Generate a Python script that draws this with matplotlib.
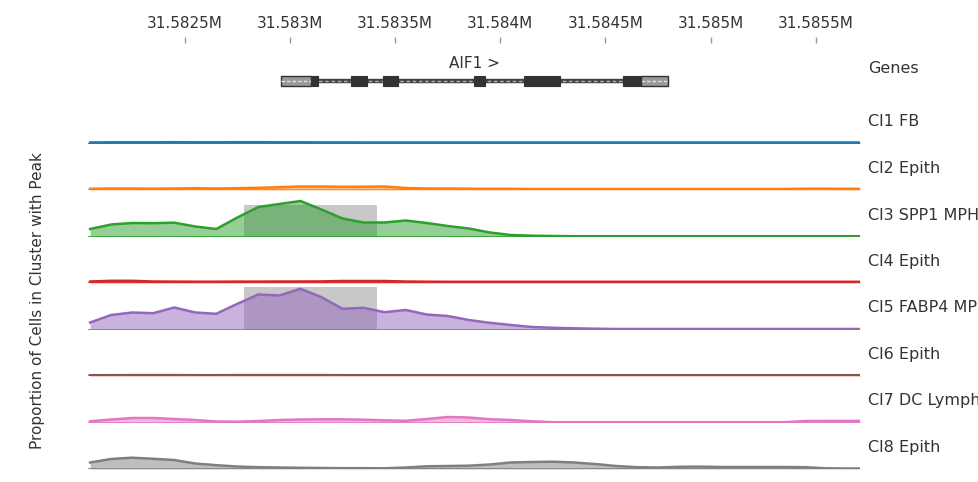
import numpy as np
import matplotlib
matplotlib.use('Agg')
import matplotlib.pyplot as plt
from matplotlib.patches import Rectangle
from matplotlib.ticker import MultipleLocator, FuncFormatter

plt.rcParams['font.family'] = ['DejaVu Sans']

# ---------------- data ----------------
x_start, x_end = 31582040, 31585710
bin_start = 31582050
bin_size = 100
n_bins = 38
positions = bin_start + bin_size * np.arange(n_bins)

clusters = ['Cl1 FB', 'Cl2 Epith', 'Cl3 SPP1 MPH', 'Cl4 Epith',
            'Cl5 FABP4 MPH', 'Cl6 Epith', 'Cl7 DC Lymph', 'Cl8 Epith']
colors = ['#1f77b4', '#ff7f0e', '#2ca02c', '#d62728',
          '#9467bd', '#8c564b', '#e377c2', '#7f7f7f']

cl1 = [.010, .012, .012, .012, .013, .012, .012, .013, .013, .012,
       .012, .011, .011, .010, .010, .010, .010, .010, .010, .010,
       .010, .010, .010, .010, .010, .010, .010, .010, .010, .010,
       .010, .010, .010, .010, .010, .010, .010, .010]
cl2 = [.012, .015, .015, .013, .015, .018, .015, .018, .022, .028,
       .035, .035, .032, .033, .035, .020, .015, .015, .013, .012,
       .012, .010, .010, .010, .010, .010, .010, .010, .010, .010,
       .010, .010, .010, .010, .013, .013, .012, .012]
cl3 = [.075, .120, .135, .133, .138, .100, .075, .190, .295, .325,
       .355, .270, .180, .140, .140, .160, .135, .105, .080, .040,
       .015, .008, .005, .003, .003, .003, .003, .003, .003, .003,
       .003, .003, .003, .003, .003, .003, .003, .003]
cl4 = [.015, .022, .022, .015, .014, .013, .013, .014, .014, .015,
       .015, .016, .020, .020, .020, .015, .013, .012, .012, .012,
       .012, .012, .012, .012, .012, .012, .012, .012, .012, .012,
       .012, .012, .012, .012, .012, .012, .012, .012]
cl5 = [.070, .145, .170, .163, .220, .170, .157, .257, .350, .340,
       .407, .323, .207, .217, .173, .195, .150, .135, .095, .067,
       .045, .025, .017, .012, .008, .005, .005, .005, .005, .005,
       .005, .005, .005, .005, .005, .005, .005, .005]
cl6 = [.008, .008, .009, .009, .009, .008, .008, .009, .009, .009,
       .009, .009, .008, .008, .008, .008, .008, .008, .008, .008,
       .008, .008, .008, .008, .008, .008, .008, .008, .008, .008,
       .008, .008, .008, .008, .008, .008, .008, .008]
cl7 = [.012, .030, .045, .045, .035, .025, .010, .008, .015, .025,
       .030, .032, .032, .028, .022, .017, .035, .055, .050, .033,
       .025, .012, .003, .003, .003, .003, .003, .003, .003, .003,
       .003, .003, .003, .003, .015, .016, .016, .016]
cl8 = [.065, .100, .113, .102, .090, .055, .038, .025, .018, .015,
       .012, .010, .008, .008, .007, .015, .027, .030, .033, .045,
       .065, .070, .073, .065, .050, .030, .018, .015, .022, .024,
       .020, .020, .020, .020, .018, .007, .005, .005]
tracks = [cl1, cl2, cl3, cl4, cl5, cl6, cl7, cl8]

highlight_start, highlight_end = 31582780, 31583416
highlight_tracks = [2, 4]
highlight_heights = [0.315, 0.425]

gene_name = 'AIF1'
gene_start, gene_end = 31582958, 31584798
utr_starts = [31582958, 31584670]
utr_ends = [31583098, 31584798]
cds_starts = [31583098, 31583288, 31583442, 31583877, 31584114, 31584584]
cds_ends = [31583132, 31583364, 31583516, 31583927, 31584285, 31584670]

# ---------------- layout helpers ----------------
W, H = 979, 482
fig = plt.figure(figsize=(W / 100, H / 100), dpi=100)
text_color = '#333333'


def rect_px(left, top, width, height):
    return [left / W, 1 - (top + height) / H, width / W, height / H]


PLOT_L, PLOT_W = 88, 772
LABEL_X = 868 / W

# ---------------- gene track ----------------
axg = fig.add_axes(rect_px(PLOT_L, 37, PLOT_W, 60))
axg.set_xlim(x_start, x_end)
axg.set_ylim(0, 60)
for s in axg.spines.values():
    s.set_visible(False)
axg.xaxis.tick_top()
axg.xaxis.set_major_locator(MultipleLocator(500))
axg.xaxis.set_major_formatter(FuncFormatter(lambda v, p: f"{v / 1e6:g}M"))
axg.tick_params(axis='x', direction='in', length=4, width=1, color='#999999',
                pad=4.5, labelsize=11, labelcolor=text_color)
axg.set_yticks([])

gy = 16
axg.plot([gene_start, gene_end], [gy, gy], color='#444444', lw=3.2,
         solid_capstyle='butt', zorder=1)
axg.plot([gene_start, gene_end], [gy, gy], color='#b0b0b0', lw=1.0,
         dashes=(2.5, 2), zorder=2)
for s, e in zip(utr_starts, utr_ends):
    axg.add_patch(Rectangle((s, gy - 5), e - s, 10, facecolor='#9a9a9a',
                            edgecolor='#333333', lw=1.0, zorder=3))
    axg.plot([s, e], [gy, gy], color='#e6e6e6', lw=1.0, dashes=(2.5, 1.5), zorder=4)
for s, e in zip(cds_starts, cds_ends):
    axg.add_patch(Rectangle((s, gy - 5), e - s, 10, facecolor='#333333',
                            edgecolor='#333333', lw=0.8, zorder=5))
axg.text((gene_start + gene_end) / 2, 34, f'{gene_name} >', ha='center',
         va='center', fontsize=11, color=text_color)
fig.text(LABEL_X, 1 - 69 / H, 'Genes', ha='left', va='center',
         fontsize=11.5, color=text_color)

# ---------------- coverage tracks ----------------
for i, (name, col, vals) in enumerate(zip(clusters, colors, tracks)):
    base = 143.5 + 46.5 * i
    ax = fig.add_axes(rect_px(PLOT_L, base - 44, PLOT_W, 44))
    ax.set_xlim(x_start, x_end)
    ax.set_ylim(0, 0.44)
    ax.axis('off')
    if i in highlight_tracks:
        hh = highlight_heights[highlight_tracks.index(i)]
        ax.add_patch(Rectangle((highlight_start, 0), highlight_end - highlight_start,
                               hh, facecolor='#c8c8c8', edgecolor='none', zorder=1))
    ax.fill_between(positions, 0, vals, color=col, alpha=0.5, lw=0, zorder=2)
    ax.plot(positions, vals, color=col, lw=1.8, zorder=3, solid_joinstyle='round')
    ax.axhline(0, color=col, lw=1.2, zorder=4)
    fig.text(LABEL_X, 1 - (base - 21.5) / H, name, ha='left', va='center',
             fontsize=11.5, color=text_color)

fig.text(38 / W, 1 - 301 / H, 'Proportion of Cells in Cluster with Peak',
         rotation=90, ha='center', va='center', fontsize=11, color=text_color)

fig.savefig('out.png', dpi=100)
